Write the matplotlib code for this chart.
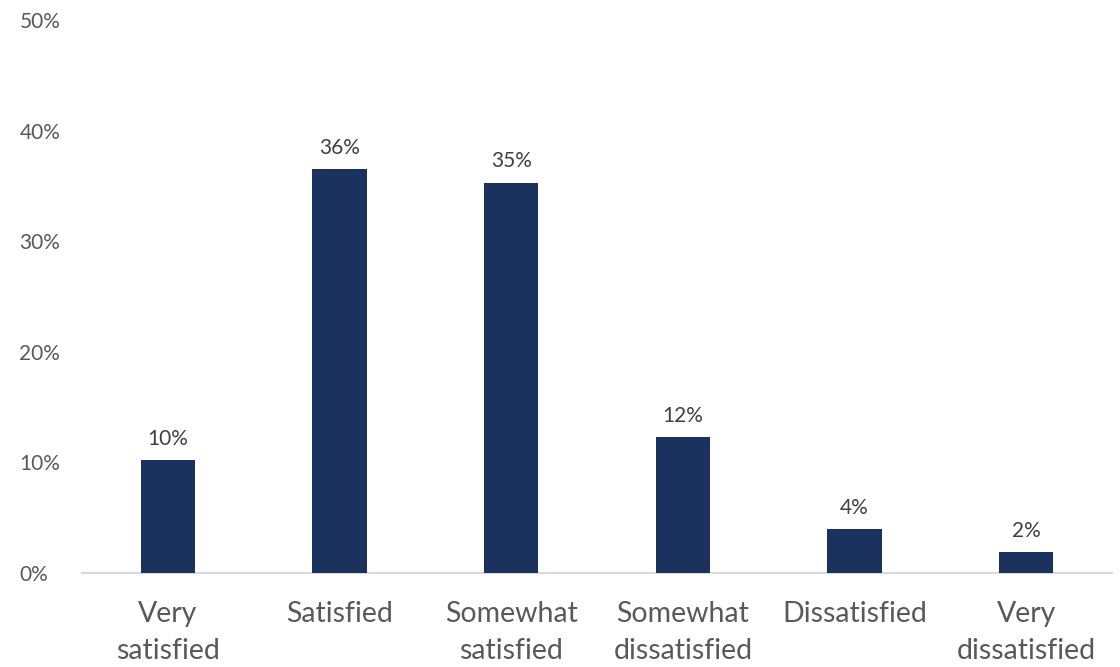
import matplotlib
matplotlib.use("Agg")
import matplotlib.pyplot as plt
from matplotlib.ticker import FuncFormatter, MultipleLocator

categories = ["Very\nsatisfied", "Satisfied", "Somewhat\nsatisfied", "Somewhat\ndissatisfied", "Dissatisfied", "Very\ndissatisfied"]
values = [10.2, 36.5, 35.3, 12.3, 4.0, 1.9]
labels = ["10%", "36%", "35%", "12%", "4%", "2%"]

plt.rcParams['font.family'] = ['Lato', 'DejaVu Sans']
text_color = "#595959"
bar_color = "#1B315E"

fig = plt.figure(figsize=(11.2, 6.67), dpi=100)
ax = fig.add_axes([0.0732, 0.1409, 0.9197, 0.8291])
x = range(len(categories))
bars = ax.bar(x, values, width=0.315, color=bar_color, zorder=3)
for b, lab in zip(bars, labels):
    ax.annotate(lab, (b.get_x() + b.get_width() / 2, b.get_height()), xytext=(0, 8),
                textcoords="offset points", ha="center", va="bottom", fontsize=15, color="#404040")

ax.set_xlim(-0.5, len(categories) - 0.5)
ax.set_ylim(0, 50)
ax.yaxis.set_major_locator(MultipleLocator(10))
ax.yaxis.set_major_formatter(FuncFormatter(lambda v, p: f"{int(v)}%"))
ax.set_xticks(list(x))
ax.set_xticklabels(categories, fontsize=20.5, color=text_color, linespacing=1.52)
for t in ax.get_yticklabels():
    t.set_fontsize(15)
    t.set_color(text_color)
ax.tick_params(axis="both", length=0)
ax.tick_params(axis="x", pad=20.5)
ax.tick_params(axis="y", pad=45)
for s in ["top", "right", "left"]:
    ax.spines[s].set_visible(False)
ax.spines["bottom"].set_color("#D9D9D9")
ax.spines["bottom"].set_linewidth(1.5)
for t in ax.get_yticklabels():
    t.set_horizontalalignment("left")

fig.savefig("out.png", dpi=100)
